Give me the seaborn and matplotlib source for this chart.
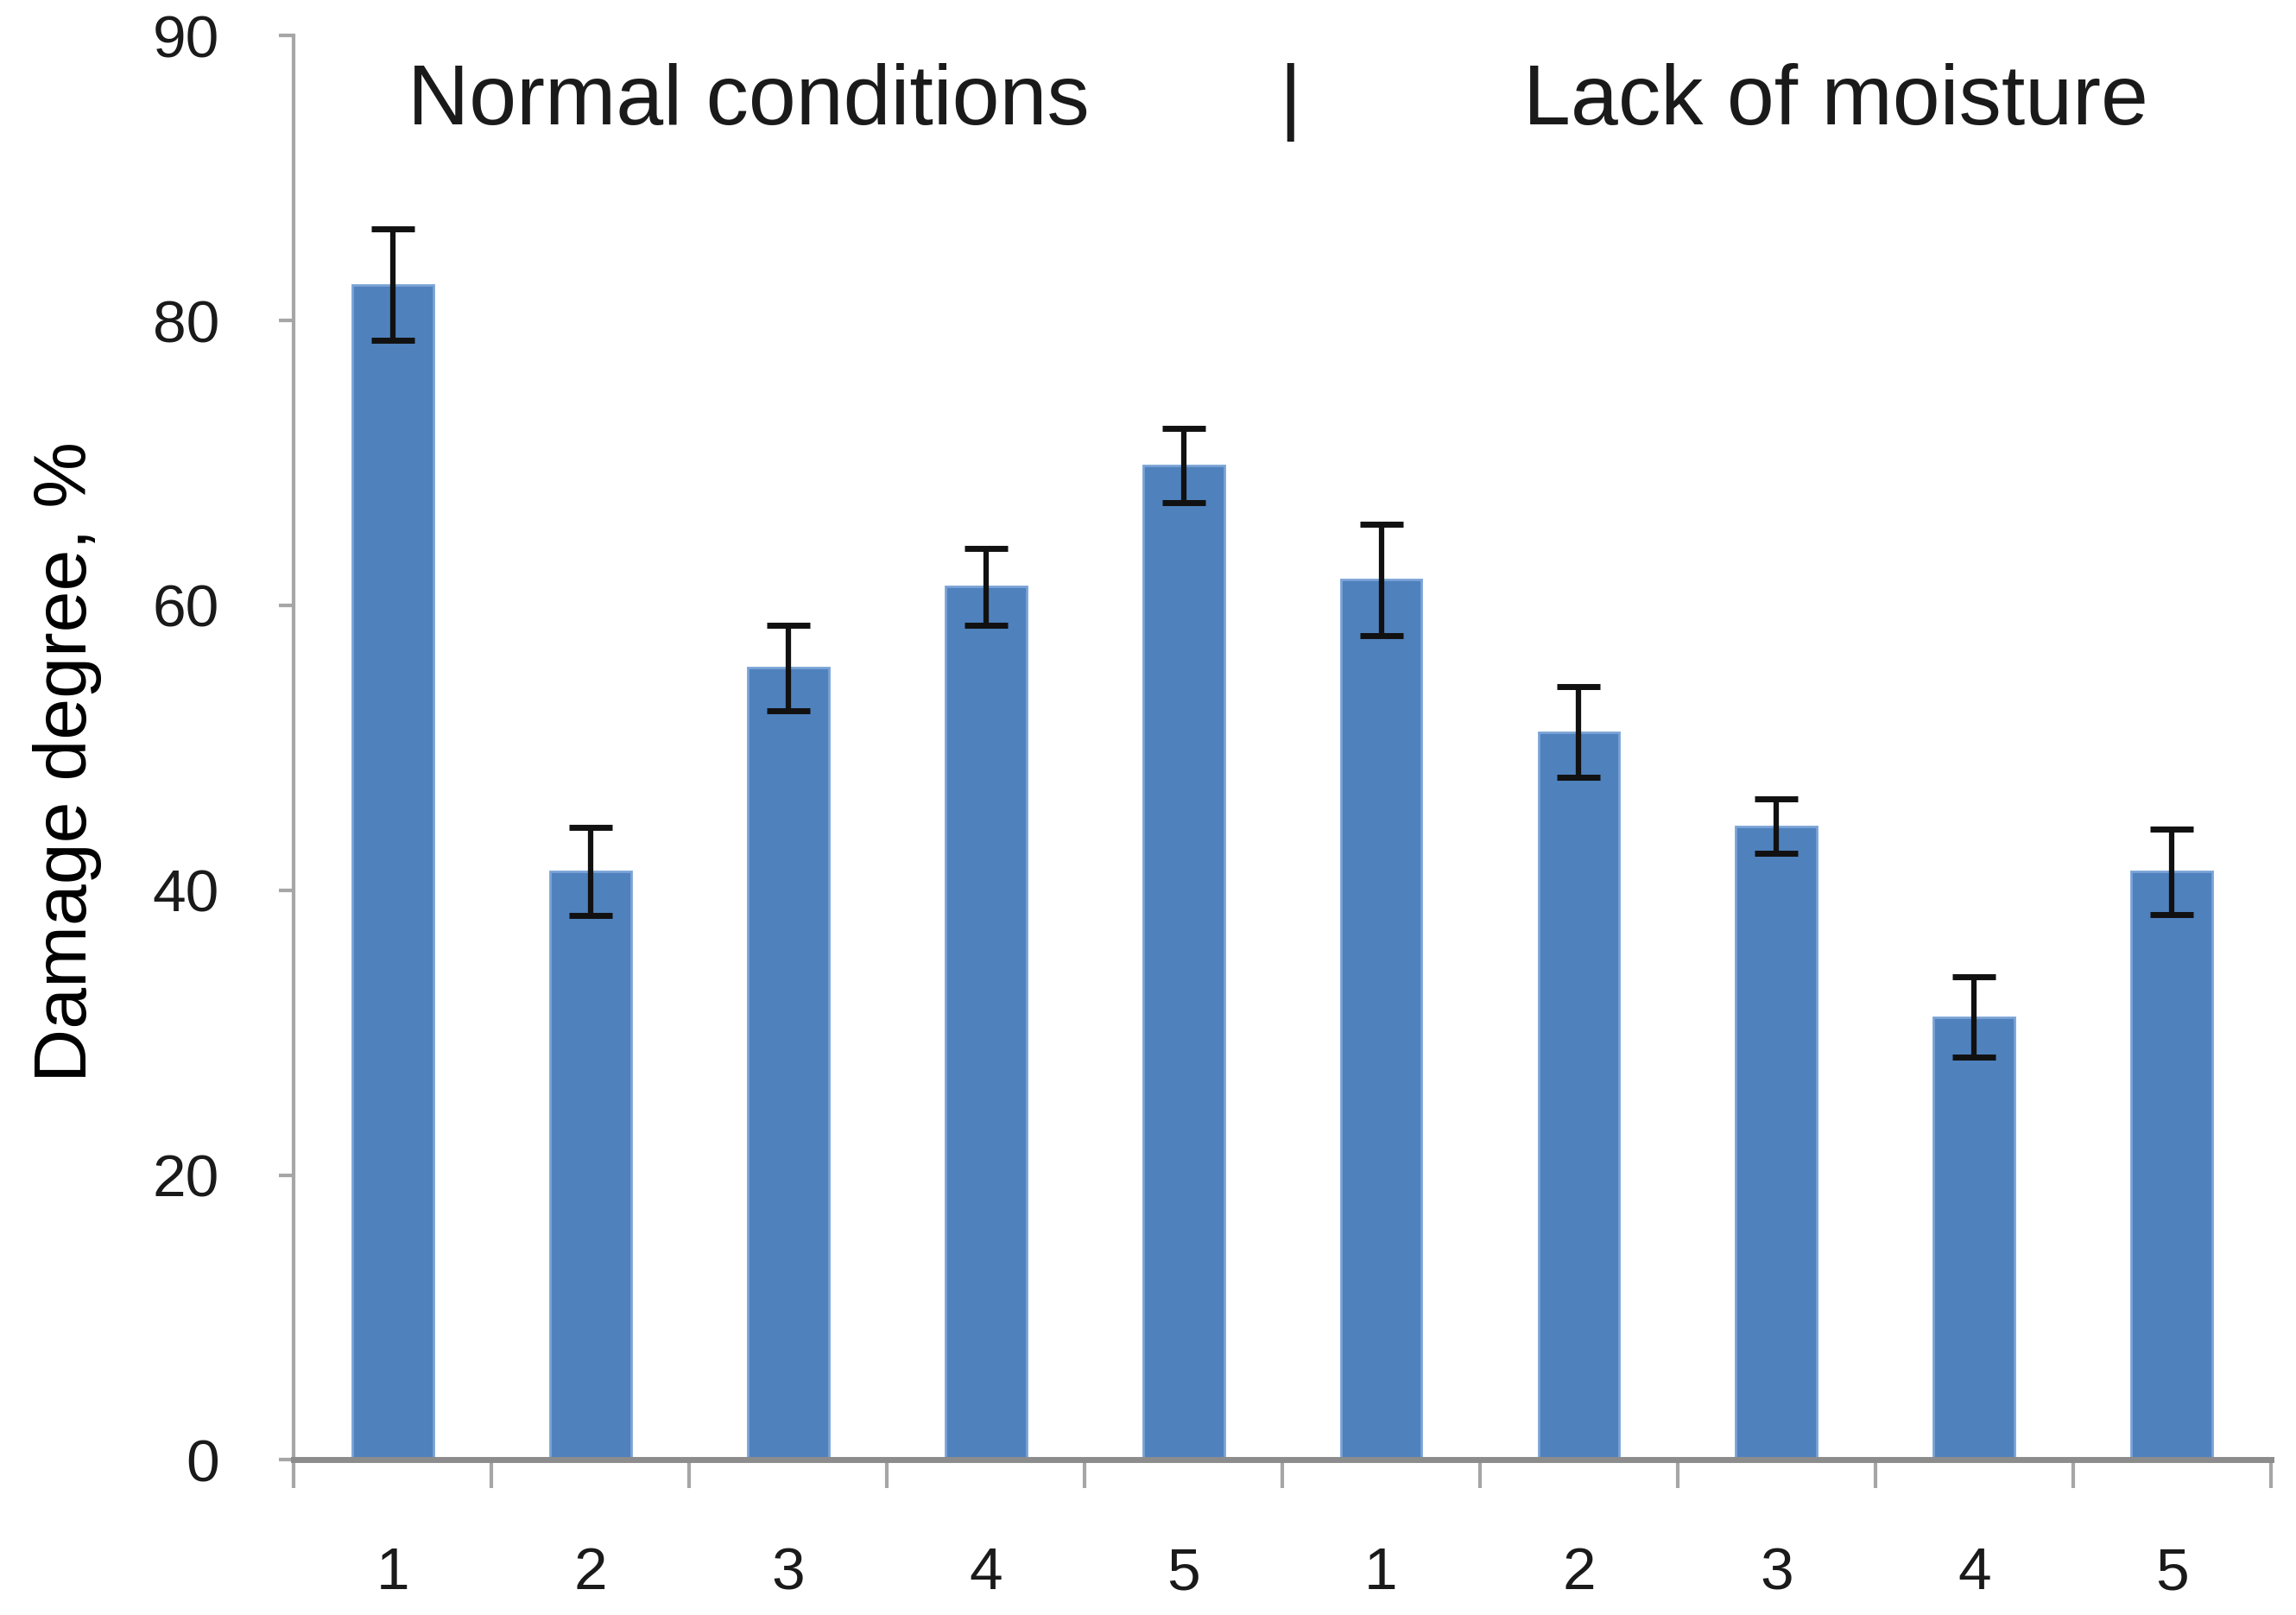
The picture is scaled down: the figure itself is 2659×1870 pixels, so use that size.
import numpy as np
import pandas as pd
import seaborn as sns
import matplotlib
matplotlib.use('Agg')
import matplotlib.pyplot as plt

# values
variants = ['1', '2', '3', '4', '5', '1', '2', '3', '4', '5']
condition = ['Normal conditions'] * 5 + ['Lack of moisture'] * 5
damage = [82.5, 41.3, 55.6, 61.3, 69.8, 61.8, 51.1, 44.5, 31.1, 41.3]
damage_err = [3.9, 3.1, 3.0, 2.7, 2.6, 3.9, 3.2, 1.9, 2.8, 3.0]
ytick_vals = [0, 20, 40, 60, 80, 100]
ytick_labels = ['0', '20', '40', '60', '80', '90']

df = pd.DataFrame({'key': ['{}{}'.format(c[0], v) for c, v in zip(condition, variants)],
                   'variant': variants, 'condition': condition,
                   'damage': damage, 'err': damage_err})

sns.set_style('white')
plt.rcParams['font.family'] = ['Liberation Sans', 'DejaVu Sans']

fig = plt.figure(figsize=(26.59, 18.70), dpi=100)
ax = fig.add_axes([0.128, 0.096, 0.861, 0.882])

sns.barplot(data=df, x='key', y='damage', color='#4f81bd', width=0.41,
            edgecolor='#7aa3d6', linewidth=2, saturation=1, errorbar=None, ax=ax)
ax.errorbar(np.arange(len(df)), df['damage'], yerr=df['err'], fmt='none',
            ecolor='#111111', elinewidth=4.5, capsize=18, capthick=5, zorder=5)

ax.set_xlim(-0.5, len(df) - 0.5)
ax.set_ylim(0, 100)
ax.set_yticks(ytick_vals)
ax.set_yticklabels(ytick_labels)
ax.set_xticks(np.arange(len(df)))
ax.set_xticklabels(df['variant'])
ax.set_xticks(np.arange(len(df) + 1) - 0.5, minor=True)
ax.tick_params(axis='x', which='major', length=0, pad=72, labelsize=50, labelcolor='#1a1a1a')
ax.tick_params(axis='x', which='minor', bottom=True, length=24, width=3, color='#a6a6a6',
               direction='out')
ax.tick_params(axis='y', length=12, width=3, color='#a6a6a6', direction='out', pad=50,
               labelsize=50, labelcolor='#1a1a1a', left=True)
ax.set_xlabel('')
ax.set_ylabel('Damage degree, %', fontsize=62, color='black')
ax.yaxis.set_label_coords(-0.097, 0.49)

for side in ['top', 'right']:
    ax.spines[side].set_visible(False)
ax.spines['left'].set_color('#a6a6a6')
ax.spines['left'].set_linewidth(3)
ax.spines['bottom'].set_color('#8c8c8c')
ax.spines['bottom'].set_linewidth(5)

ax.text(1.8, 95.3, 'Normal conditions', fontsize=71, ha='center', va='center', color='#1a1a1a')
ax.text(4.54, 95.3, '|', fontsize=71, ha='center', va='center', color='#1a1a1a')
ax.text(7.3, 95.3, 'Lack of moisture', fontsize=71, ha='center', va='center', color='#1a1a1a')

plt.savefig('out.png', dpi=100)
plt.close()
